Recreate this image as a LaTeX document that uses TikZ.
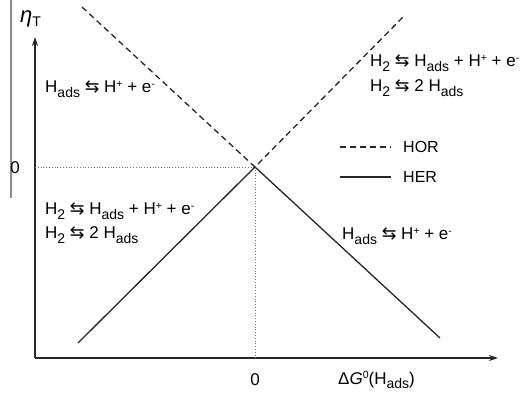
\documentclass[tikz,border=0pt]{standalone}
\usepackage{fontspec}
\setmainfont{Liberation Sans}
\newfontfamily\symfont{DejaVu Sans}
\usetikzlibrary{arrows.meta}
\newcommand\lo[1]{\raisebox{-0.5ex}{\fontsize{14}{14}\selectfont #1}}
\newcommand\hi[1]{\raisebox{0.6ex}{\fontsize{10.5}{10.5}\selectfont #1}}
\newcommand\eqarr{{\symfont\fontsize{17.5}{17.5}\selectfont\char"21C6}}
\begin{document}
\begin{tikzpicture}[x=1pt,y=-1pt,
  lbl/.style={inner sep=0pt,anchor=west,font=\fontsize{17}{19}\selectfont},
  axis/.style={line width=1.4pt,draw=black!85,-{Stealth[length=9pt,width=6pt]}},
  hor/.style={line width=1.3pt,draw=black!85,dash pattern=on 6pt off 4pt},
  her/.style={line width=1.3pt,draw=black!85},
  guide/.style={line width=0.8pt,draw=black!55,dotted}]
\useasboundingbox (0,0) rectangle (532,392);
% left border line
\coordinate (b1) at (11,0);
\coordinate (b2) at (11,198);
\draw[line width=1.2pt,black!45] (b1) -- (b2);
% axes
\coordinate (O) at (35,358);
\coordinate (ytip) at (35,37);
\coordinate (xtip) at (498,358);
\draw[axis] (O) -- (ytip);
\draw[axis] (O) -- (xtip);
% key points
\coordinate (P) at (255,167);
\coordinate (y0) at (35,167);
\coordinate (x0) at (255,358);
\coordinate (dl) at (82,7);
\coordinate (dr) at (404,16);
\coordinate (sl) at (78,343);
\coordinate (sr) at (440,338);
\draw[guide] (y0) -- (P);
\draw[guide] (P) -- (x0);
\draw[hor] (dl) -- (P) -- (dr);
\draw[her] (sl) -- (P) -- (sr);
% legend
\coordinate (l1a) at (340,147);
\coordinate (l1b) at (391,147);
\coordinate (l2a) at (340,177);
\coordinate (l2b) at (391,177);
\draw[hor] (l1a) -- (l1b);
\draw[her] (l2a) -- (l2b);
\node[lbl,font=\fontsize{16}{18}\selectfont] (hor) at (403,147) {HOR};
\node[lbl,font=\fontsize{16}{18}\selectfont] (her) at (403,177) {HER};
% labels
\node[inner sep=0pt,anchor=west,font=\fontsize{22}{24}\selectfont] (eta) at (20,19) {\textit{η}\raisebox{-0.3ex}{\fontsize{14}{14}\selectfont T}};
\node[lbl,anchor=center] (zy) at (15,168) {0};
\node[lbl,anchor=center] (zx) at (255,380) {0};
\node[lbl] (dg) at (338,380) {Δ\textit{G}\hi{0}(H\lo{ads})};
\node[lbl] (ul) at (45,89) {H\lo{ads} \eqarr{} H\hi{+} + e\hi{-}};
\node[lbl] (ur1) at (370,63) {H\lo{2} \eqarr{} H\lo{ads} + H\hi{+} + e\hi{-}};
\node[lbl] (ur2) at (370,88) {H\lo{2} \eqarr{} 2 H\lo{ads}};
\node[lbl] (ll1) at (45,211) {H\lo{2} \eqarr{} H\lo{ads} + H\hi{+} + e\hi{-}};
\node[lbl] (ll2) at (45,235) {H\lo{2} \eqarr{} 2 H\lo{ads}};
\node[lbl] (lr) at (342,236) {H\lo{ads} \eqarr{} H\hi{+} + e\hi{-}};
\end{tikzpicture}
\end{document}
